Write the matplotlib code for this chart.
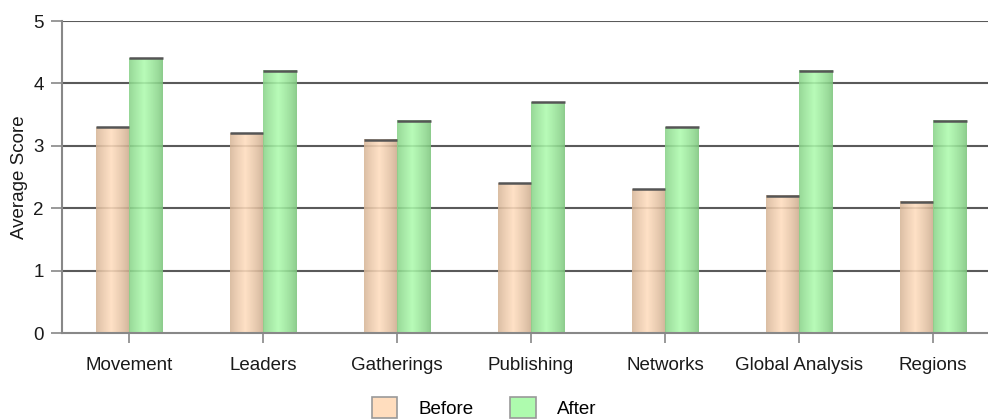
import numpy as np
import matplotlib
matplotlib.use("Agg")
import matplotlib.pyplot as plt
from matplotlib.colors import LinearSegmentedColormap
from matplotlib.patches import Patch

plt.rcParams['font.family'] = ['Liberation Sans', 'DejaVu Sans']

categories = ["Movement", "Leaders", "Gatherings", "Publishing",
              "Networks", "Global Analysis", "Regions"]
before = [3.3, 3.2, 3.1, 2.4, 2.3, 2.2, 2.1]
after = [4.4, 4.2, 3.4, 3.7, 3.3, 4.2, 3.4]
series_names = ["Before", "After"]
y_ticks = [0, 1, 2, 3, 4, 5]

before_light, before_dark = "#FFDDBE", "#C9A88B"
after_light, after_dark = "#AEFBAE", "#7CC47C"

fig = plt.figure(figsize=(9.88, 4.2), dpi=100)
ax = fig.add_axes([62 / 988, 1 - 333 / 420, 1 - 62 / 988, (333 - 21) / 420])

x = np.arange(len(categories))
bw = 0.25


def shaded_bar(ax, x0, width, height, light, dark):
    # horizontal shading profile: dark edges, bright stripe slightly left of centre
    t = np.linspace(0, 1, 64)
    prof = np.clip(1 - np.abs(t - 0.45) / 0.55, 0, 1) ** 0.8
    cmap = LinearSegmentedColormap.from_list("b", [dark, light])
    ax.imshow(prof[None, :], cmap=cmap, vmin=0, vmax=1, aspect="auto",
              extent=(x0, x0 + width, 0, height), zorder=2, alpha=0.88,
              interpolation="bilinear")
    ax.plot([x0, x0 + width], [height, height], color="#555555", lw=1.8,
            zorder=3, solid_capstyle="butt")


for i in x:
    shaded_bar(ax, i - bw, bw, before[i], before_light, before_dark)
    shaded_bar(ax, i, bw, after[i], after_light, after_dark)

ax.set_xlim(-0.5, (988 - 62) / 134 - 0.5)
ax.set_ylim(0, 5)
ax.set_yticks(y_ticks)
ax.set_xticks(x)
ax.set_xticklabels(categories)

for y in y_ticks[1:]:
    ax.axhline(y, color="#5a5a5a", lw=1.5, zorder=1)

for s in ["top", "right"]:
    ax.spines[s].set_visible(False)
for s in ["left", "bottom"]:
    ax.spines[s].set_color("#888888")
    ax.spines[s].set_linewidth(1.5)
    ax.spines[s].set_zorder(4)

ax.tick_params(axis="both", colors="#888888", width=1.2, labelsize=13.5,
               labelcolor="#1a1a1a")
ax.tick_params(axis="y", length=8, pad=5)
ax.tick_params(axis="x", length=7, pad=10)
ax.set_ylabel("Average Score", fontsize=13.5, color="#1a1a1a", labelpad=4)

handles = [Patch(facecolor=before_light, edgecolor="#999999", lw=1.2),
           Patch(facecolor=after_light, edgecolor="#999999", lw=1.2)]
fig.legend(handles, series_names, loc="lower center", ncol=2, frameon=False,
           fontsize=13.5, bbox_to_anchor=(0.49, -0.036), handlelength=1.35,
           handleheight=1.35, handletextpad=1.15, columnspacing=1.95)

fig.savefig("out.png", dpi=100)
